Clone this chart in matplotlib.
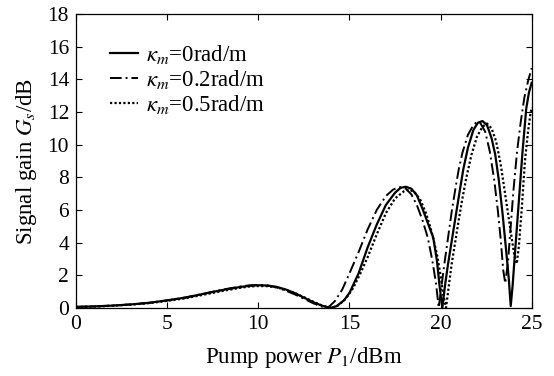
import numpy as np
import matplotlib
matplotlib.use("Agg")
import matplotlib.pyplot as plt

plt.rcParams['font.family'] = ['Liberation Serif', 'DejaVu Serif']
plt.rcParams['mathtext.fontset'] = 'stix'

# pump power P1 (dBm) and signal gain Gs (dB)
# kappa_m = 0 rad/m
x0 = [0, 1, 2, 3, 4, 5, 6, 7, 8, 9, 9.5, 10, 10.5, 11, 11.5, 12, 12.5, 13, 13.5, 13.8,
      14.0, 14.3, 14.7, 15, 15.5, 16, 16.5, 17, 17.5, 17.8, 18.1, 18.4, 18.7, 19, 19.3,
      19.6, 19.8, 19.95, 20.1, 20.25, 20.4, 20.6, 20.8, 21, 21.25, 21.5, 21.8, 22.05,
      22.3, 22.55, 22.8, 23, 23.2, 23.4, 23.6, 23.75, 23.85, 23.95, 24.1, 24.3, 24.5,
      24.7, 24.85, 25]
g0 = [0.05, 0.08, 0.13, 0.2, 0.3, 0.45, 0.62, 0.85, 1.08, 1.27, 1.34, 1.38, 1.36, 1.28,
      1.12, 0.9, 0.62, 0.35, 0.12, 0.03, 0.0, 0.1, 0.45, 0.9, 2.1, 3.7, 5.1, 6.3, 7.05,
      7.35, 7.42, 7.3, 6.9, 6.1, 5.2, 4.3, 2.9, 1.3, 0.0, 1.4, 2.6, 4.0, 5.4, 6.8, 8.5,
      9.8, 10.9, 11.35, 11.45, 11.2, 10.4, 9.4, 7.8, 5.8, 3.5, 1.7, 0.1, 1.3, 3.6, 6.6,
      9.6, 12.2, 13.2, 13.8]

# kappa_m = 0.2 rad/m
x2 = [0, 1, 2, 3, 4, 5, 6, 7, 8, 9, 9.5, 10, 10.5, 11, 11.5, 12, 12.5, 13, 13.4, 13.7,
      13.9, 14.2, 14.6, 15, 15.5, 16, 16.5, 17, 17.4, 17.8, 18.1, 18.4, 18.7, 19, 19.3,
      19.55, 19.75, 19.9, 20.05, 20.2, 20.4, 20.6, 20.8, 21, 21.2, 21.5, 21.8, 22.0,
      22.2, 22.45, 22.7, 22.95, 23.15, 23.3, 23.44, 23.55, 23.7, 23.85, 24.0, 24.2,
      24.4, 24.6, 24.8, 25]
g2 = [0.05, 0.08, 0.13, 0.2, 0.3, 0.45, 0.63, 0.86, 1.1, 1.3, 1.37, 1.4, 1.37, 1.25,
      1.05, 0.82, 0.55, 0.28, 0.1, 0.0, 0.08, 0.4, 1.1, 2.1, 3.4, 4.8, 6.0, 6.85, 7.25,
      7.4, 7.3, 6.95, 6.3, 5.4, 4.3, 2.9, 1.5, 0.0, 1.3, 2.6, 4.2, 5.8, 7.2, 8.5, 9.5,
      10.6, 11.2, 11.4, 11.3, 10.8, 9.6, 7.8, 5.9, 4.2, 2.3, 1.5, 2.8, 5.0, 7.2, 9.6,
      11.4, 12.9, 13.9, 14.7]

# kappa_m = 0.5 rad/m
x5 = [0, 1, 2, 3, 4, 5, 6, 7, 8, 9, 9.5, 10, 10.5, 11, 11.5, 12, 12.5, 13, 13.5, 13.9,
      14.1, 14.4, 14.8, 15.2, 15.6, 16, 16.5, 17, 17.5, 18, 18.3, 18.6, 18.9, 19.2,
      19.5, 19.8, 20.0, 20.15, 20.3, 20.45, 20.6, 20.8, 21, 21.2, 21.4, 21.7, 22, 22.3,
      22.55, 22.8, 23.05, 23.3, 23.5, 23.7, 23.9, 24.05, 24.18, 24.3, 24.45, 24.63,
      24.8, 24.92, 25]
g5 = [0.04, 0.07, 0.12, 0.19, 0.28, 0.42, 0.58, 0.8, 1.02, 1.22, 1.3, 1.33, 1.32, 1.25,
      1.1, 0.9, 0.65, 0.38, 0.14, 0.02, 0.0, 0.15, 0.55, 1.2, 2.1, 3.1, 4.5, 5.8, 6.7, 7.15,
      7.25, 7.05, 6.6, 5.8, 4.7, 3.3, 2.0, 0.8, 0.0, 1.3, 2.6, 4.0, 5.4, 6.7, 7.9, 9.4,
      10.5, 11.1, 11.3, 11.0, 10.2, 8.8, 7.3, 5.8, 4.3, 3.2, 2.7, 3.8, 6.0, 9.0, 10.8,
      11.8, 12.3]

labels = [r'$\kappa_m$=0rad/m', r'$\kappa_m$=0.2rad/m', r'$\kappa_m$=0.5rad/m']

fig = plt.figure(figsize=(5.54, 3.76), dpi=100)
ax = fig.add_axes([0.1372, 0.1816, 0.8225, 0.7804])

ax.plot(x0, g0, color='black', lw=1.6, ls='-', label=labels[0])
ax.plot(x2, g2, color='black', lw=1.4, ls=(0, (6, 2, 1, 2)), label=labels[1])
ax.plot(x5, g5, color='black', lw=1.6, ls=(0, (1, 1)), label=labels[2])

ax.set_xlim(0, 25)
ax.set_ylim(0, 18)
ax.set_xticks(np.arange(0, 26, 5))
ax.set_yticks(np.arange(0, 19, 2))
ax.tick_params(direction='in', top=True, right=True, labelsize=15.5, length=4, width=0.8, pad=5)
for s in ax.spines.values():
    s.set_linewidth(0.9)

ax.set_xlabel(r'Pump power $P_1$/dBm', fontsize=16.5, labelpad=8)
ax.set_ylabel(r'Signal gain $G_s$/dB', fontsize=16.5, labelpad=6)

ax.legend(loc='upper left', bbox_to_anchor=(0.055, 0.935), frameon=False, fontsize=16.5,
          handlelength=1.2, handletextpad=0.35, labelspacing=0.1, borderaxespad=0)

fig.savefig('out.png', dpi=100)
